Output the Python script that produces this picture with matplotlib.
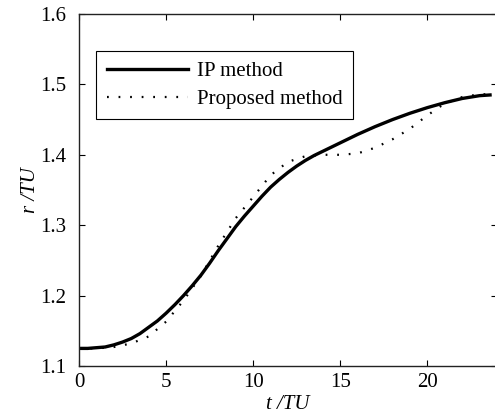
import matplotlib
matplotlib.use('Agg')
import matplotlib.pyplot as plt

plt.rcParams['font.family'] = 'Liberation Serif'
plt.rcParams['font.size'] = 15

# IP method (solid)
t_ip = [0, 0.5, 1, 1.5, 2, 2.5, 3, 3.5, 4, 4.5, 5, 5.5, 6, 6.5, 7, 7.5, 8,
        8.5, 9, 9.5, 10, 10.5, 11, 11.5, 12, 12.5, 13, 13.5, 14, 14.5, 15,
        16, 17, 18, 19, 20, 21, 22, 23, 23.6]
r_ip = [1.125, 1.125, 1.126, 1.127, 1.130, 1.134, 1.139, 1.146, 1.155, 1.164,
        1.175, 1.187, 1.200, 1.214, 1.229, 1.246, 1.264, 1.281, 1.298, 1.313,
        1.327, 1.341, 1.354, 1.365, 1.375, 1.384, 1.392, 1.399, 1.405, 1.411,
        1.417, 1.429, 1.440, 1.450, 1.459, 1.467, 1.474, 1.480, 1.484, 1.485]

# Proposed method (dotted)
t_pm = [0, 1, 2, 3, 4, 5, 6, 7, 8, 9, 10, 11, 12, 13, 14, 15, 16, 17, 18, 19,
        20, 21, 22, 23, 23.6]
r_pm = [1.125, 1.125, 1.127, 1.132, 1.142, 1.163, 1.193, 1.228, 1.271, 1.310,
        1.340, 1.371, 1.390, 1.398, 1.400, 1.400, 1.402, 1.410, 1.422, 1.437,
        1.456, 1.473, 1.482, 1.486, 1.486]

xticks = [0, 5, 10, 15, 20]
yticks = [1.1, 1.2, 1.3, 1.4, 1.5, 1.6]

fig = plt.figure(figsize=(4.95, 4.18), dpi=100)
ax = fig.add_axes([79/495, 52/418, 418/495, 352/418])

ax.plot(t_ip, r_ip, color='black', lw=2.4, label='IP method')
ax.plot(t_pm, r_pm, color='black', lw=1.6, linestyle=(0, (0.8, 4.4)),
        label='Proposed method')

ax.set_xlim(0, 24)
ax.set_ylim(1.1, 1.6)
ax.set_xticks(xticks)
ax.set_xticklabels([str(v) for v in xticks])
ax.set_yticks(yticks)
ax.set_yticklabels(['%.1f' % v for v in yticks])
ax.tick_params(direction='in', top=True, right=True, length=4, width=0.8)
ax.tick_params(axis='x', pad=5)
ax.tick_params(axis='y', pad=9)
for s in ax.spines.values():
    s.set_linewidth(1.0)
    s.set_color('#222222')

ax.set_xlabel('t /TU', fontstyle='italic', labelpad=2)
ax.set_ylabel('r /TU', fontstyle='italic', labelpad=0)

leg = ax.legend(loc='upper left', bbox_to_anchor=(0.041, 0.895),
                borderaxespad=0, fancybox=False, edgecolor='black',
                framealpha=1, handlelength=3.9, handletextpad=0.45,
                borderpad=0.5, labelspacing=0.4)
leg.get_frame().set_linewidth(0.8)

fig.savefig('out.png', dpi=100)
